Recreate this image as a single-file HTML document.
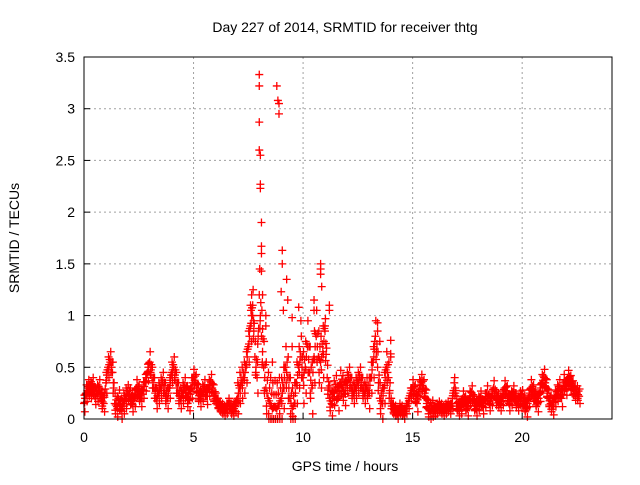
<!DOCTYPE html>
<html><head><meta charset="utf-8">
<style>
body{margin:0;background:#fff;}
svg text{font-family:"Liberation Sans",sans-serif;font-size:14px;fill:#000;}
</style></head>
<body>
<svg id="chart" width="640" height="480" xmlns="http://www.w3.org/2000/svg">
<rect width="640" height="480" fill="#fff"/>
<text x="345" y="32" text-anchor="middle">Day 227 of 2014, SRMTID for receiver thtg</text>
<text x="345" y="471" text-anchor="middle">GPS time / hours</text>
<text transform="translate(19,238) rotate(-90)" text-anchor="middle">SRMTID / TECUs</text>
<g id="grid"></g>
<g id="ticks"></g>
<g id="marks"></g>
<rect x="84" y="57" width="528" height="362" fill="none" stroke="#000" stroke-width="1"/>
</svg>
<script>
const xTicks=[0,5,10,15,20];
const yTicks=[0,0.5,1,1.5,2,2.5,3,3.5];
const yTickLabels=["0","0.5","1","1.5","2","2.5","3","3.5"];
const seriesStart=0, seriesStep=0.1;
const seriesValues=[
0.15,0.25,0.3,0.28,0.32,0.22,0.25,0.3,0.18,0.15,
0.35,0.5,0.55,0.45,0.15,0.12,0.18,0.1,0.15,0.2,
0.25,0.22,0.15,0.2,0.3,0.25,0.2,0.28,0.35,0.45,
0.55,0.4,0.3,0.2,0.25,0.3,0.35,0.25,0.2,0.3,
0.45,0.5,0.35,0.25,0.2,0.25,0.3,0.22,0.18,0.3,
0.4,0.35,0.25,0.2,0.25,0.3,0.22,0.3,0.35,0.25,
0.2,0.15,0.12,0.1,0.08,0.1,0.15,0.1,0.08,0.12,
0.2,0.3,0.35,0.4,0.5,0.7,0.9,1.1,0.6,0.4,
1.2,0.8,0.5,0.3,0.2,0.15,0.1,0.12,0.1,0.15,
0.2,0.3,0.5,0.4,0.2,0.1,0.15,0.35,0.5,0.6,
0.4,0.5,0.7,0.45,0.3,0.6,0.8,0.6,0.55,0.65,
0.85,0.4,0.2,0.15,0.25,0.3,0.2,0.35,0.3,0.25,
0.35,0.4,0.3,0.25,0.3,0.35,0.4,0.3,0.25,0.3,
0.25,0.4,0.55,0.8,0.5,0.2,0.15,0.3,0.5,0.4,
0.15,0.1,0.08,0.05,0.1,0.08,0.05,0.1,0.15,0.25,
0.3,0.25,0.15,0.3,0.35,0.3,0.2,0.1,0.08,0.1,
0.08,0.1,0.12,0.1,0.08,0.1,0.12,0.1,0.15,0.35,
0.15,0.1,0.12,0.2,0.15,0.1,0.2,0.25,0.15,0.1,
0.15,0.2,0.12,0.18,0.25,0.15,0.2,0.3,0.2,0.18,
0.15,0.2,0.3,0.25,0.15,0.2,0.25,0.18,0.15,0.2,
0.2,0.15,0.1,0.2,0.3,0.25,0.2,0.15,0.25,0.35,
0.4,0.3,0.2,0.15,0.12,0.2,0.25,0.3,0.2,0.35,
0.3,0.4,0.35,0.3,0.25,0.25,0.22];
/* scatter half-width per hour (TECU) */
const hourlySpread=[0.08,0.1,0.08,0.1,0.1,0.08,0.05,0.15,0.25,0.2,0.25,0.12,0.1,0.15,0.05,0.08,0.05,0.07,0.07,0.07,0.08,0.08,0.07];
const spikeTimes=[8.0,8.0,8.0,8.0,8.05,8.05,8.05,8.1,8.1,8.1,8.1,8.15,8.15,8.8,8.85,8.9,8.9,9.05,9.05,9.0,9.1,9.25,9.3,9.5,9.8,9.9,10.5,10.5,10.8,10.8,10.8,10.85,11.2,11.2,11.0,7.6,7.65,7.7,8.3,8.3,13.4,13.4,13.5,14.0,14.0,14.0,9.5,8.6];
const spikeValues=[3.33,3.22,2.87,2.6,2.55,2.27,2.23,1.9,1.67,1.6,1.43,1.2,0.87,3.22,3.08,3.05,2.95,1.63,1.5,1.23,1.05,1.35,1.15,0.98,1.08,0.95,1.15,1.05,1.5,1.45,1.4,1.28,1.1,1.05,0.9,1.1,1.2,1.0,1.0,0.9,0.93,0.85,0.75,0.76,0.63,0.6,0.7,0.55];
const X0=84,X1=612,Y0=419,Y1=57,XMAX=24.1,YMAX=3.5;
function xs(v){return X0+(X1-X0)*v/XMAX;}
function ys(v){return Y0-(Y0-Y1)*v/YMAX;}
const NS="http://www.w3.org/2000/svg";
const grid=document.getElementById('grid'),ticks=document.getElementById('ticks'),marks=document.getElementById('marks');
function mk(tag,attrs,parent){const e=document.createElementNS(NS,tag);for(const k in attrs)e.setAttribute(k,attrs[k]);parent.appendChild(e);return e;}
xTicks.forEach(t=>{
  const x=xs(t);
  if(t>0){const g=mk('line',{x1:x,x2:x,y1:Y1,y2:Y0,stroke:'#a0a0a0','stroke-dasharray':'2,3'},grid);
  
  }
  const l=mk('line',{x1:x,x2:x,y1:Y0,y2:Y0-6,stroke:'#000'},ticks);
  
  
  const tx=mk('text',{x:x,y:Y0+23,'text-anchor':'middle'},ticks);tx.textContent=String(t);
  
  
});
yTicks.forEach((t,i)=>{
  const y=ys(t);
  if(t>0&&t<YMAX){const g=mk('line',{x1:X0,x2:X1,y1:y,y2:y,stroke:'#a0a0a0','stroke-dasharray':'2,3'},grid);
  
  }
  const l=mk('line',{x1:X0,x2:X0+6,y1:y,y2:y,stroke:'#000'},ticks);
  
  
  const tx=mk('text',{x:X0-9,y:y+5,'text-anchor':'end'},ticks);tx.textContent=yTickLabels[i];
  
  
});
function plus(x,y){
  if(y>Y0+3)y=Y0+3;
  const p=mk('path',{d:`M${x-4},${y}h8M${x},${y-4}v8`,stroke:'#ff0000','stroke-width':1.3,fill:'none'},marks);
  
  
}
seriesValues.forEach((v,i)=>{
  const t=seriesStart+i*seriesStep;
  const s=hourlySpread[Math.min(hourlySpread.length-1,Math.floor(t))];
  plus(xs(t),ys(v));
  plus(xs(t+0.02),ys(v+s));
  plus(xs(t+0.04),ys(Math.max(0,v-s)));
  if(i+1<seriesValues.length){
    const m=(v+seriesValues[i+1])/2;
    plus(xs(t+seriesStep/2),ys(m));
    plus(xs(t+seriesStep*0.7),ys(m+s*0.5));
    plus(xs(t+seriesStep*0.3),ys(Math.max(0,m-s*0.5)));
  }
});
spikeTimes.forEach((t,i)=>plus(xs(t),ys(spikeValues[i])));
</script>
</body></html>
